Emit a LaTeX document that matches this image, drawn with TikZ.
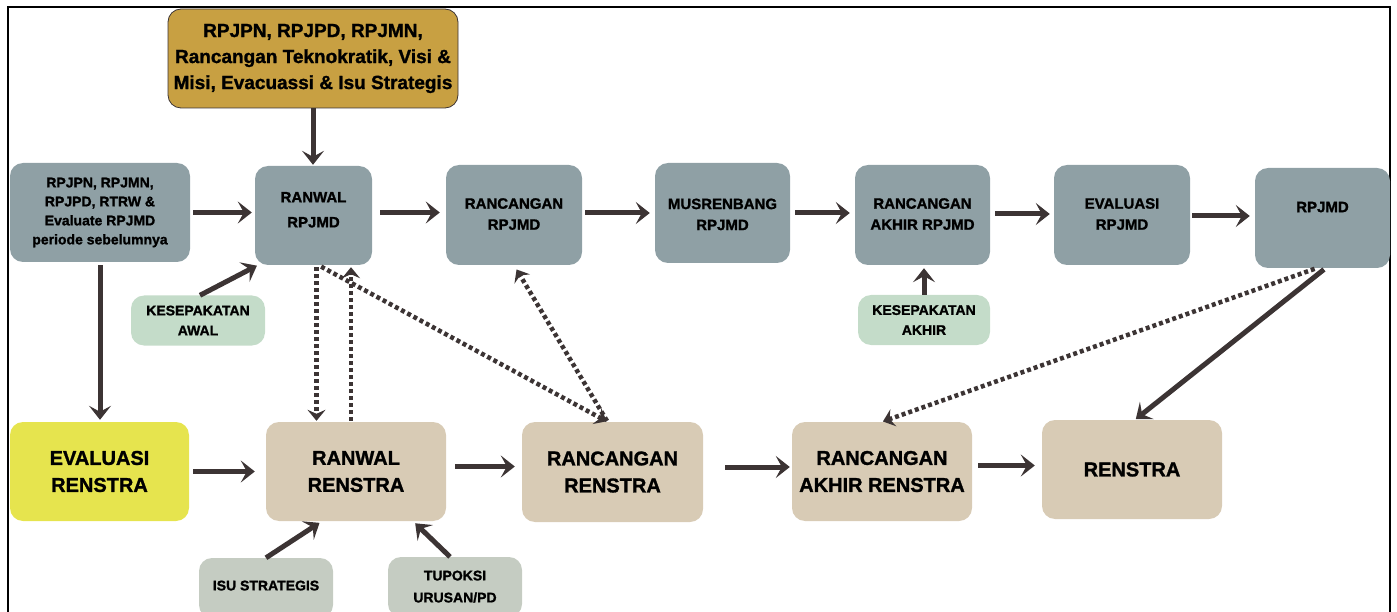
\documentclass[tikz,border=0pt]{standalone}
\usepackage{fontspec}
\setmainfont{Liberation Sans}[BoldFeatures={FakeBold=1.3}]
\usetikzlibrary{arrows.meta}
\definecolor{goldbox}{HTML}{C8A042}
\definecolor{slatebox}{HTML}{8FA0A5}
\definecolor{mintbox}{HTML}{C4DCC9}
\definecolor{sagebox}{HTML}{C5CCC2}
\definecolor{tanbox}{HTML}{D8CBB5}
\definecolor{lemonbox}{HTML}{E6E44E}
\definecolor{arrowc}{HTML}{3C3434}
\newcommand{\twolines}[2]{\begin{tabular}{@{}c@{}}#1\\#2\end{tabular}}
\tikzset{
  box/.style={rounded corners=13pt, align=center, inner sep=2pt, text=black},
  rpjmdbox/.style={box, fill=slatebox, minimum width=135pt, minimum height=100pt,
    font=\bfseries\fontsize{15}{21}\selectfont},
  renstrabox/.style={box, fill=tanbox, minimum width=180pt, minimum height=99pt,
    font=\bfseries\fontsize{20}{27}\selectfont},
  notebox/.style={box, minimum width=134pt, minimum height=50pt,
    font=\bfseries\fontsize{14}{20}\selectfont},
  arr/.style={draw=arrowc, line width=5pt, -{Stealth[length=14pt,width=22pt,inset=6pt]}},
  dotarr/.style={draw=arrowc, line width=4.5pt, dash pattern=on 4pt off 3pt,
    -{Stealth[length=11pt,width=18pt,inset=4pt]}}
}
\begin{document}
\begin{tikzpicture}[x=1pt, y=-1pt]
  %%%%% FRAME %%%%%
  \useasboundingbox (0,0) rectangle (1397,612);
  \clip (0,0) rectangle (1397,612);
  \draw[line width=2pt] (8,612) -- (8,7) -- (1390,7) -- (1390,612);

  %%%%% RPJMD ROW %%%%%
  \node[box, fill=goldbox, draw=arrowc, line width=0.8pt, minimum width=290pt, minimum height=99pt,
    font=\bfseries\fontsize{19}{26}\selectfont] (dasar) at (313,58.5)
    {RPJPN, RPJPD, RPJMN,\\Rancangan Teknokratik, Visi \&\\Misi, Evacuassi \& Isu Strategis};

  \node[rpjmdbox, minimum width=180pt, minimum height=99pt,
    font=\bfseries\fontsize{14}{19}\selectfont] (acuan) at (100,212.5)
    {RPJPN, RPJMN,\\RPJPD, RTRW \&\\Evaluate RPJMD\\periode sebelumnya};
  \node[rpjmdbox, minimum width=117pt, minimum height=99pt,
    font=\bfseries\fontsize{15}{25}\selectfont] (ranwal) at (313.5,215.5) {\raisebox{2pt}[0pt][0pt]{\twolines{RANWAL}{RPJMD}}};
  \node[rpjmdbox, minimum width=136pt] (rancangan) at (514,215) {\raisebox{3pt}{\twolines{RANCANGAN}{RPJMD}}};
  \node[rpjmdbox] (musrenbang) at (722.5,213) {\raisebox{-6pt}[0pt][0pt]{\twolines{MUSRENBANG}{RPJMD}}};
  \node[rpjmdbox] (rakhir) at (922.5,215) {\raisebox{3pt}{\twolines{RANCANGAN}{AKHIR RPJMD}}};
  \node[rpjmdbox, minimum width=136pt] (evalrpjmd) at (1122,215) {\raisebox{3pt}{\twolines{EVALUASI}{RPJMD}}};
  \node[rpjmdbox] (rpjmd) at (1322.5,218) {\raisebox{22pt}{RPJMD}};

  \node[notebox, fill=mintbox] (kawal) at (198,320.5) {KESEPAKATAN\\AWAL};
  \node[notebox, fill=mintbox, minimum width=132pt] (kakhir) at (924,320) {KESEPAKATAN\\AKHIR};

  %%%%% RENSTRA ROW %%%%%
  \node[renstrabox, fill=lemonbox, minimum width=179pt] (evrenstra) at (99.5,471.5) {EVALUASI\\RENSTRA};
  \node[renstrabox] (ranwalr) at (356,471.5) {RANWAL\\RENSTRA};
  \node[renstrabox, minimum width=181pt, minimum height=100pt] (rancr) at (612.5,472) {RANCANGAN\\RENSTRA};
  \node[renstrabox] (rakhirr) at (882,471.5) {RANCANGAN\\AKHIR RENSTRA};
  \node[renstrabox] (renstra) at (1132,469.5) {RENSTRA};

  \node[notebox, fill=sagebox, minimum height=60pt] (isu) at (266,588) {\raisebox{5pt}{ISU STRATEGIS}};
  \node[notebox, fill=sagebox, minimum height=60pt, font=\bfseries\fontsize{14}{22}\selectfont] (tupoksi) at (455,587) {\raisebox{5pt}{\twolines{TUPOKSI}{URUSAN/PD}}};

  %%%%% SOLID ARROWS %%%%%
  \draw[arr, shorten >=1pt] (dasar.south) -- (dasar.south |- ranwal.north);
  \draw[arr, shorten <=3pt, shorten >=3pt] (acuan.east) -- (acuan.east -| ranwal.west);
  \draw[arr, shorten <=8pt, shorten >=6pt] ([yshift=3pt]ranwal.east) -- ([yshift=3pt]ranwal.east -| rancangan.west);
  \draw[arr, shorten <=3pt, shorten >=5pt] ([yshift=2pt]rancangan.east) -- ([yshift=2pt]rancangan.east -| musrenbang.west);
  \draw[arr, shorten <=5pt, shorten >=5pt] (musrenbang.east) -- (musrenbang.east -| rakhir.west);
  \draw[arr, shorten <=5pt, shorten >=4pt] ([yshift=1pt]rakhir.east) -- ([yshift=1pt]rakhir.east -| evalrpjmd.west);
  \draw[arr, shorten <=2pt, shorten >=5pt] ([yshift=-1pt]evalrpjmd.east) -- ([yshift=-1pt]evalrpjmd.east -| rpjmd.west);
  \draw[arr, shorten <=3pt, shorten >=2pt] (acuan.south) -- (acuan.south |- evrenstra.north);
  \draw[arr, shorten >=1pt] ([xshift=2pt]kawal.north) -- ([xshift=3pt]ranwal.south west);
  \draw[arr, shorten >=3pt] (kakhir.north) -- (kakhir.north |- rakhir.south);

  \draw[arr, shorten <=4pt, shorten >=11pt] (evrenstra.east) -- (ranwalr.west);
  \draw[arr, shorten <=9pt, shorten >=7pt] ([yshift=5pt]ranwalr.east) -- ([yshift=5pt]ranwalr.east -| rancr.west);
  \draw[arr, shorten <=22pt, shorten >=2pt] ([yshift=5pt]rancr.east) -- ([yshift=5pt]rancr.east -| rakhirr.west);
  \draw[arr, shorten <=6pt, shorten >=7pt] ([yshift=6pt]rakhirr.east) -- ([yshift=6pt]rakhirr.east -| renstra.west);

  \draw[arr, shorten >=3pt] (isu.north) -- ([xshift=-34pt]ranwalr.south);
  \draw[arr, shorten >=3pt] ([xshift=-5pt]tupoksi.north) -- ([xshift=57pt]ranwalr.south);
  \draw[arr, shorten <=2pt, shorten >=1pt] ([xshift=3pt]rpjmd.south) -- ([xshift=3pt]renstra.north);

  %%%%% DOTTED ARROWS %%%%%
  \draw[dotarr, shorten <=2pt, shorten >=1pt] ([xshift=3pt]ranwal.south) -- ([xshift=3pt]ranwal.south |- ranwalr.north);
  \draw[dotarr, shorten <=1pt, shorten >=2pt] ([xshift=-5pt]ranwalr.north) -- ([xshift=-5pt]ranwalr.north |- ranwal.south);
  \draw[dotarr, shorten <=3pt, shorten >=1pt] ([xshift=5pt]ranwal.south) -- ([xshift=-5pt]rancr.north);
  \draw[dotarr, shorten <=1pt, shorten >=5pt] ([xshift=-5pt]rancr.north) -- (rancangan.south);
  \draw[dotarr, shorten <=2pt, shorten >=1pt] ([xshift=-6pt]rpjmd.south) -- (rakhirr.north);
\end{tikzpicture}
\end{document}
